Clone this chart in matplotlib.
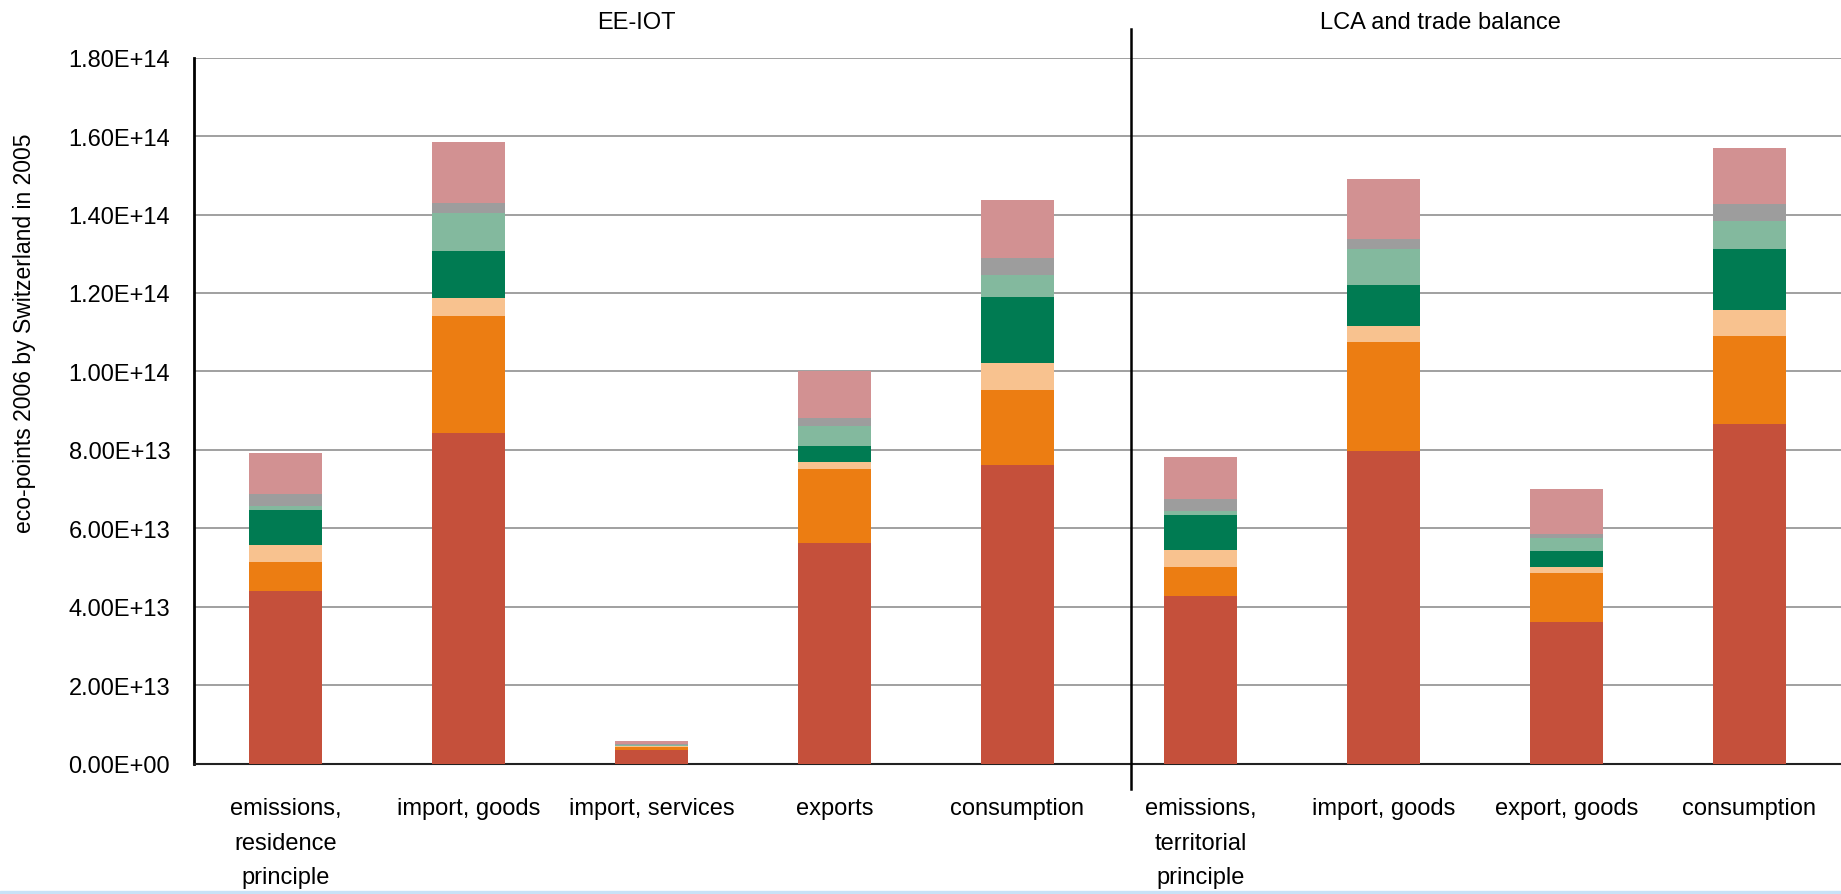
import numpy as np
import matplotlib.pyplot as plt
import matplotlib.transforms as mtransforms
from matplotlib.patches import Rectangle
from matplotlib.ticker import FuncFormatter, MultipleLocator

# category labels (two groups: EE-IOT and LCA)
categories = ['emissions,\nresidence\nprinciple', 'import, goods', 'import, services',
              'exports', 'consumption',
              'emissions,\nterritorial\nprinciple', 'import, goods', 'export, goods',
              'consumption']
group_names = ['EE-IOT', 'LCA and trade balance']

# stacked segments, bottom to top, in units of 1e13 eco-points
layer1 = [4.40, 8.44, 0.34, 5.62, 7.61, 4.27, 7.97, 3.61, 8.66]
layer2 = [0.74, 2.97, 0.09, 1.88, 1.91, 0.74, 2.78, 1.25, 2.24]
layer3 = [0.43, 0.46, 0.01, 0.19, 0.70, 0.44, 0.41, 0.15, 0.67]
layer4 = [0.90, 1.20, 0.01, 0.41, 1.67, 0.89, 1.04, 0.41, 1.55]
layer5 = [0.10, 0.97, 0.03, 0.52, 0.57, 0.10, 0.92, 0.33, 0.72]
layer6 = [0.30, 0.26, 0.01, 0.18, 0.43, 0.31, 0.26, 0.11, 0.43]
layer7 = [1.05, 1.56, 0.08, 1.21, 1.48, 1.07, 1.53, 1.14, 1.43]

colors = ['#C5503B', '#EC7D12', '#F8C28F', '#007B52', '#83B99E', '#9D9D9D', '#D29192']

font = ['Liberation Sans Narrow', 'Liberation Sans', 'DejaVu Sans']
fs = 17

fig = plt.figure(figsize=(18.41, 8.95), dpi=100)
ax = fig.add_axes([193.8 / 1841, 1 - 764.5 / 895, 1 - 193.8 / 1841, (764.5 - 58.7) / 895])

x = np.arange(len(categories))
bottom = np.zeros(len(categories))
for vals, c in zip([layer1, layer2, layer3, layer4, layer5, layer6, layer7], colors):
    v = np.array(vals) * 1e13
    ax.bar(x, v, width=0.4, bottom=bottom, color=c, zorder=3)
    bottom += v

ax.set_xlim(-0.5, 8.5)
ax.set_ylim(0, 1.8e14)
ax.yaxis.set_major_locator(MultipleLocator(2e13))
ax.yaxis.set_major_formatter(FuncFormatter(lambda v, p: f'{v:.2E}'))
ax.grid(axis='y', color='#999999', lw=1.3, zorder=0)

ax.set_xticks(x)
ax.set_xticklabels(categories, family=font, fontsize=fs, linespacing=1.75)
for lab in ax.get_yticklabels():
    lab.set_family(font)
    lab.set_fontsize(fs)
ax.tick_params(axis='x', length=0, pad=24)
ax.tick_params(axis='y', length=0, pad=17)

for s in ['top', 'right']:
    ax.spines[s].set_visible(False)
ax.spines['left'].set_linewidth(2)
ax.spines['left'].set_color('black')
ax.spines['bottom'].set_linewidth(1.5)
ax.spines['bottom'].set_color('#222222')

# separator between the two groups
trans = mtransforms.blended_transform_factory(ax.transData, ax.transAxes)
ax.plot([4.62, 4.62], [-0.036, 1.04], color='black', lw=1.8, transform=trans, clip_on=False, zorder=5)

# group titles
ax.text(1.92, 1.0 + (58.7 - 23) / 705.8, group_names[0], transform=trans, ha='center', va='center',
        family=font, fontsize=fs)
ax.text(6.31, 1.0 + (58.7 - 23) / 705.8, group_names[1], transform=trans, ha='center', va='center',
        family=font, fontsize=fs)

fig.text(25 / 1841, 1 - 333 / 895, 'eco-points 2006 by Switzerland in 2005', rotation=90,
         ha='center', va='center', family=['Liberation Sans', 'DejaVu Sans'], fontsize=16.5)

# thin light blue strip at the bottom edge
fig.patches.append(Rectangle((0, 0), 1, 3.5 / 895, transform=fig.transFigure,
                             color='#C8E2F7', zorder=10))

fig.savefig('out.png', dpi=100)
